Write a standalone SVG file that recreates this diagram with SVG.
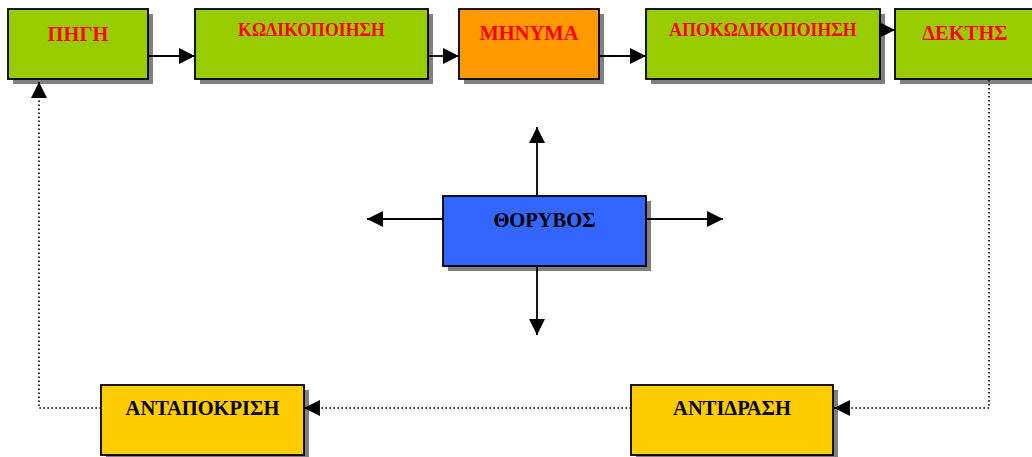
<svg xmlns="http://www.w3.org/2000/svg" width="1032" height="457" viewBox="0 0 1032 457">
<defs>
<style>
.sh{fill:#808080;stroke:none}
.bx{stroke:#000;stroke-width:1.8}
.g{fill:#99CC00}
.o{fill:#FF9900}
.b{fill:#3366FF}
.y{fill:#FFCC00}
.t{font-family:"Liberation Serif","Times New Roman",serif;font-weight:bold;font-size:20.5px;text-anchor:middle}
.sm{font-size:17.8px}
.red{fill:#FF0000}
.blk{fill:#000}
.ln{fill:none;stroke:#000;stroke-width:1.8}
.dot{fill:none;stroke:#000;stroke-width:1.6;stroke-dasharray:1.6 2.4}
</style>
<marker id="ah" markerUnits="userSpaceOnUse" markerWidth="17" markerHeight="17" viewBox="0 0 17 17" refX="16" refY="8.5" orient="auto">
<path d="M0 0.5 L16 8.5 L0 16.5 Z" fill="#000" stroke="none"/>
</marker>
</defs>
<rect width="1032" height="457" fill="#fff"/>
<g id="pigi">
<rect class="sh" x="13" y="14" width="140" height="70"/>
<rect class="bx g" x="8" y="9" width="140" height="70"/>
<text class="t red" x="78" y="41">ΠΗΓΗ</text>
</g>
<g id="kodikopoiisi">
<rect class="sh" x="200" y="14" width="233" height="70"/>
<rect class="bx g" x="195" y="9" width="233" height="70"/>
<text class="t sm red" x="311.5" y="36">ΚΩΔΙΚΟΠΟΙΗΣΗ</text>
</g>
<g id="minyma">
<rect class="sh" x="464" y="14" width="140" height="70"/>
<rect class="bx o" x="459" y="9" width="140" height="70"/>
<text class="t red" x="529" y="40">ΜΗΝΥΜΑ</text>
</g>
<g id="apokodikopoiisi">
<rect class="sh" x="651" y="14" width="234" height="70"/>
<rect class="bx g" x="646" y="9" width="234" height="70"/>
<text class="t sm red" x="763" y="36">ΑΠΟΚΩΔΙΚΟΠΟΙΗΣΗ</text>
</g>
<g id="dektis">
<rect class="sh" x="900" y="14" width="140" height="70"/>
<rect class="bx g" x="895" y="9" width="140" height="70"/>
<text class="t red" x="965" y="40">ΔΕΚΤΗΣ</text>
</g>
<g id="thoryvos">
<rect class="sh" x="448" y="201" width="203" height="70"/>
<rect class="bx b" x="443" y="196" width="203" height="70"/>
<text class="t blk" x="544.5" y="227">ΘΟΡΥΒΟΣ</text>
</g>
<g id="antapokrisi">
<rect class="sh" x="106" y="390" width="203" height="70"/>
<rect class="bx y" x="101" y="385" width="203" height="70"/>
<text class="t blk" x="202.5" y="415">ΑΝΤΑΠΟΚΡΙΣΗ</text>
</g>
<g id="antidrasi">
<rect class="sh" x="636" y="390" width="202" height="70"/>
<rect class="bx y" x="631" y="385" width="202" height="70"/>
<text class="t blk" x="732" y="415">ΑΝΤΙΔΡΑΣΗ</text>
</g>
<g id="connectors">
<path class="ln" d="M148 56 H195" marker-end="url(#ah)"/>
<path class="ln" d="M428 56 H459" marker-end="url(#ah)"/>
<path class="ln" d="M599 56 H646" marker-end="url(#ah)"/>
<path class="ln" d="M880 30 H895" marker-end="url(#ah)"/>
<path class="ln" d="M537 196 V127" marker-end="url(#ah)"/>
<path class="ln" d="M537 266 V335" marker-end="url(#ah)"/>
<path class="ln" d="M443 219 H367" marker-end="url(#ah)"/>
<path class="ln" d="M646 219 H723" marker-end="url(#ah)"/>
<path class="dot" d="M989 80 V408 H849"/>
<path class="ln" d="M849 408 H834" marker-end="url(#ah)"/>
<path class="dot" d="M631 408 H319"/>
<path class="ln" d="M319 408 H304" marker-end="url(#ah)"/>
<path class="dot" d="M101 408 H39 V98"/>
<path class="ln" d="M39 98 V82" marker-end="url(#ah)"/>
</g>
</svg>
